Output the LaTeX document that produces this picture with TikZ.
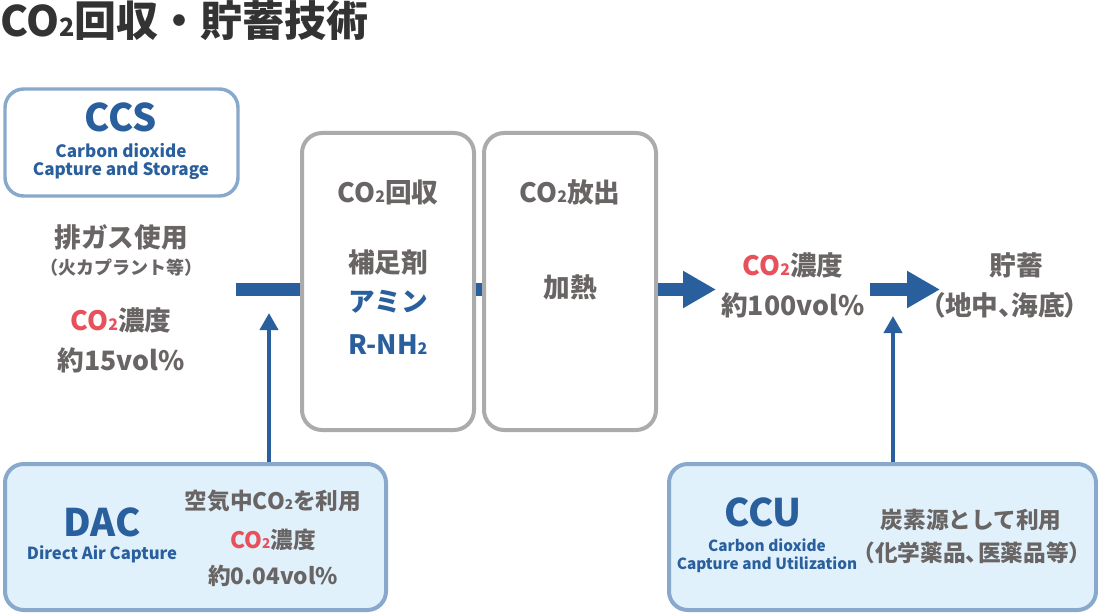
\documentclass[tikz,border=0pt]{standalone}
\usepackage{fontspec}
\setmainfont{Noto Sans CJK JP}
\usetikzlibrary{arrows.meta}
\definecolor{tblue}{HTML}{2A5F9E}
\definecolor{cgray}{HTML}{6A6565}
\definecolor{ctitle}{HTML}{333333}
\definecolor{cred}{HTML}{E8505B}
\definecolor{lborder}{HTML}{88A8CC}
\definecolor{gborder}{HTML}{ABABAB}
\definecolor{lfill}{HTML}{E1F1FB}
\newcommand\two{\scalebox{0.6}{2}}
\newcommand\rco{\textcolor{cred}{CO\two}}
\newcommand\tten{\makebox[0.55em][l]{、}}
\begin{document}
\begin{tikzpicture}[x=0.75pt,y=-0.75pt,
  gbig/.style={text=cgray,font=\bfseries\fontsize{20pt}{24pt}\selectfont,inner sep=0pt},
  gmid/.style={text=cgray,font=\bfseries\fontsize{17pt}{20pt}\selectfont,inner sep=0pt},
  gsmall/.style={text=cgray,font=\bfseries\fontsize{13.5pt}{16pt}\selectfont,inner sep=0pt},
  bbig/.style={text=tblue,font=\bfseries\fontsize{28.5pt}{32pt}\selectfont,inner sep=0pt},
  bsmall/.style={text=tblue,font=\bfseries\fontsize{11.5pt}{14pt}\selectfont,inner sep=0pt},
  bblue/.style={text=tblue,font=\bfseries\fontsize{20pt}{24pt}\selectfont,inner sep=0pt},
  infobox/.style={draw=lborder,line width=2.6pt,rounded corners=14pt},
  procbox/.style={draw=gborder,line width=3pt,rounded corners=15pt,fill=white,
    minimum width=129pt,minimum height=222.75pt},
  bar/.style={draw=tblue,line width=9.75pt},
  harrow/.style={draw=tblue,line width=9.75pt,-{Triangle[width=26.25pt,length=24.75pt]}},
  varrow/.style={draw=tblue,line width=3pt,-{Triangle[width=13.5pt,length=12.75pt]}}
]
\useasboundingbox (0,0) rectangle (1098,613);
% title
\node[anchor=west,inner sep=0pt,text=ctitle,font=\bfseries\fontsize{31.5pt}{36pt}\selectfont] (title) at (0,21) {CO\two 回収・貯蓄技術};
% CCS box
\node[infobox,fill=white,minimum width=174.75pt,minimum height=80.25pt] (ccs) at (121.5,142.5) {};
\node[bbig] (ccst) at (121,117) {CCS};
\node[bsmall,font=\bfseries\fontsize{12.8pt}{15pt}\selectfont] (ccs1) at (121,151) {Carbon dioxide};
\node[bsmall,font=\bfseries\fontsize{12.8pt}{15pt}\selectfont] (ccs2) at (121,171) {Capture and Storage};
% left column
\node[gbig] (haigas) at (121,237) {排ガス使用};
\node[gsmall] (karyoku) at (121,268) {（火カプラント等）};
\node[gbig] (conc1) at (121,320) {\rco 濃度};
\node[gbig] (vol1) at (121,360) {約15vol\%};
% process boxes
\node[procbox] (box1) at (388,281.5) {};
\node[procbox] (box2) at (570,281.5) {};
\node[gbig] (kaishu) at (388,192) {CO\two 回収};
\node[gbig] (hosoku) at (388,262) {補足剤};
\node[bblue] (amin) at (388,302) {アミン};
\node[bblue] (rnh) at (388,345) {R-NH\two};
\node[gbig] (hoshutsu) at (570,192) {CO\two 放出};
\node[gbig] (kanetsu) at (570,287) {加熱};
% right texts
\node[gbig] (conc2) at (793,265) {\rco 濃度};
\node[gbig] (vol2) at (793,305) {約100vol\%};
\node[gbig] (chozou) at (1016,265) {貯蓄};
\node[gbig,font=\bfseries\fontsize{20pt}{24pt}\selectfont\addfontfeature{RawFeature=+palt}] (chichu) at (1005,305) {（地中、海底）};
% connectors
\coordinate (ccsout) at (236,289.5);
\draw[bar] (ccsout) -- (ccsout -| box1.west);
\draw[bar] (box1.east |- ccsout) -- (box2.west |- ccsout);
\coordinate (a1e) at (716,289.5);
\draw[harrow] (box2.east |- a1e) -- (a1e);
\coordinate (a2s) at (870,289.5);
\coordinate (a2e) at (940,289.5);
\draw[harrow] (a2s) -- (a2e);
% DAC box
\node[infobox,fill=lfill,line width=3pt,minimum width=285.75pt,minimum height=109.5pt] (dac) at (195.5,537) {};
\node[bbig] (dact) at (102,522) {DAC};
\node[bsmall,font=\bfseries\fontsize{12.5pt}{15pt}\selectfont] (dac1) at (102,554) {Direct Air Capture};
\node[gmid] (kuki) at (273,501) {空気中CO\two を利用};
\node[gmid] (conc3) at (273,540) {\rco 濃度};
\node[gmid] (vol3) at (273,576) {約0.04vol\%};
% CCU box
\node[infobox,fill=lfill,line width=3pt,minimum width=320.25pt,minimum height=109.5pt] (ccu) at (882.5,537) {};
\node[bbig] (ccut) at (763,512) {CCU};
\node[bsmall] (ccu1) at (767,545) {Carbon dioxide};
\node[bsmall] (ccu2) at (767,565) {Capture and Utilization};
\node[gmid] (tanso) at (971,520) {炭素源として利用};
\node[gmid] (kagaku) at (972,553) {（化学薬品\tten 医薬品等）};
% vertical arrows
\coordinate (dacin) at (269,313);
\draw[varrow] (dacin |- dac.north) -- (dacin);
\coordinate (ccuin) at (893,316);
\draw[varrow] (ccuin |- ccu.north) -- (ccuin);
\end{tikzpicture}
\end{document}
